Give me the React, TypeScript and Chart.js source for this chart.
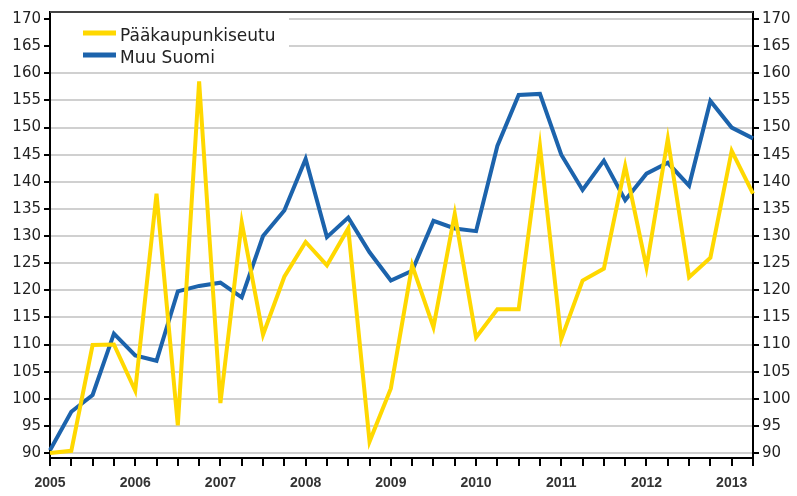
import React, { useEffect, useRef } from "react";
import { Chart, registerables } from "chart.js";

Chart.register(...registerables);

const years = ["2005", "2006", "2007", "2008", "2009", "2010", "2011", "2012", "2013"];
const quarters: string[] = [];
years.forEach((y) => ["Q1", "Q2", "Q3", "Q4"].forEach((q) => quarters.push(y + q)));
const categories = quarters.slice(0, 34);

const seriesNames = ["Pääkaupunkiseutu", "Muu Suomi"];

const paakaupunkiseutu = [
  90, 90.4, 109.9, 110, 101.5, 137.8, 95.1, 158.5, 99.2, 132.5,
  111.8, 122.5, 128.9, 124.6, 131.4, 92.1, 101.9, 124.6, 113.2, 134.1,
  111.3, 116.5, 116.5, 146.6, 111, 121.8, 124, 142.9, 124.2, 147.9,
  122.4, 126, 145.7, 137.8,
];

const muuSuomi = [
  90.5, 97.6, 100.7, 112, 108, 107, 119.8, 120.8, 121.4, 118.7,
  130, 134.7, 144.2, 129.8, 133.4, 127, 121.8, 123.6, 132.8, 131.4,
  130.9, 146.6, 156, 156.2, 145, 138.5, 143.9, 136.6, 141.5, 143.5,
  139.3, 154.9, 150, 148,
];

const yTicks = [90, 95, 100, 105, 110, 115, 120, 125, 130, 135, 140, 145, 150, 155, 160, 165, 170];
const yMin = 89.08;
const yMax = 171.3;

const YELLOW = "#FFD800";
const BLUE = "#1C63AC";
const FONT = "'DejaVu Sans', Verdana, sans-serif";
const XFONT = "'Liberation Sans', Arial, sans-serif";

const frameLegendPlugin = {
  id: "frameLegend",
  beforeDatasetsDraw(chart: any) {
    const { ctx, chartArea } = chart;
    ctx.save();
    ctx.fillStyle = "#ffffff";
    ctx.fillRect(chartArea.left + 1, chartArea.top + 1, 238, 55);
    ctx.restore();
  },
  afterDatasetsDraw(chart: any) {
    const { ctx, chartArea } = chart;
    ctx.save();
    ctx.strokeStyle = "#444444";
    ctx.lineWidth = 2;
    ctx.beginPath();
    ctx.moveTo(chartArea.left, chartArea.top);
    ctx.lineTo(chartArea.right, chartArea.top);
    ctx.stroke();
    const items = [
      { label: seriesNames[0], color: YELLOW, y: 33 },
      { label: seriesNames[1], color: BLUE, y: 55 },
    ];
    ctx.font = `17px ${FONT}`;
    ctx.textBaseline = "alphabetic";
    ctx.textAlign = "left";
    items.forEach((it) => {
      ctx.strokeStyle = it.color;
      ctx.lineWidth = 5;
      ctx.beginPath();
      ctx.moveTo(83, it.y);
      ctx.lineTo(116, it.y);
      ctx.stroke();
      ctx.fillStyle = "#222222";
      ctx.fillText(it.label, 120, it.y + 8);
    });
    ctx.restore();
  },
};

export default function App() {
  const canvasRef = useRef<HTMLCanvasElement | null>(null);

  useEffect(() => {
    if (!canvasRef.current) return;
    const setTicks = (scale: any) => {
      scale.ticks = yTicks.map((v) => ({ value: v }));
    };
    const chart = new Chart(canvasRef.current, {
      type: "line",
      data: {
        labels: categories,
        datasets: [
          {
            label: seriesNames[0],
            data: paakaupunkiseutu,
            borderColor: YELLOW,
            backgroundColor: YELLOW,
            borderWidth: 4,
            pointRadius: 0,
            tension: 0,
          },
          {
            label: seriesNames[1],
            data: muuSuomi,
            borderColor: BLUE,
            backgroundColor: BLUE,
            borderWidth: 4,
            pointRadius: 0,
            tension: 0,
          },
        ],
      },
      options: {
        responsive: false,
        animation: false,
        layout: { padding: { top: 11, left: 0, right: 0, bottom: 0 } },
        plugins: { legend: { display: false }, tooltip: { enabled: false } },
        scales: {
          x: {
            type: "category",
            offset: false,
            grid: {
              drawOnChartArea: false,
              drawTicks: true,
              tickLength: 8,
              tickColor: "#000",
              lineWidth: 2,
            },
            border: { color: "#000", width: 2 },
            ticks: {
              autoSkip: false,
              maxRotation: 0,
              minRotation: 0,
              padding: 9,
              color: "#333",
              font: { family: XFONT, size: 14, weight: "bold" },
              callback: (_v: any, i: number) => (i % 4 === 0 ? categories[i].slice(0, 4) : ""),
            },
            afterFit: (s: any) => {
              s.height = 38;
            },
          },
          y: {
            position: "left",
            min: yMin,
            max: yMax,
            afterBuildTicks: setTicks,
            grid: {
              color: "#d0d0d0",
              lineWidth: 2,
              tickColor: "#000",
              tickLength: 6,
            },
            border: { color: "#000", width: 2 },
            ticks: {
              color: "#222",
              padding: 3,
              font: { family: FONT, size: 15 },
            },
            afterFit: (s: any) => {
              s.width = 50;
            },
          },
          y2: {
            position: "right",
            min: yMin,
            max: yMax,
            afterBuildTicks: setTicks,
            grid: {
              drawOnChartArea: false,
              tickColor: "#000",
              tickLength: 6,
              lineWidth: 2,
            },
            border: { color: "#000", width: 2 },
            ticks: {
              color: "#222",
              padding: 3,
              font: { family: FONT, size: 15 },
            },
            afterFit: (s: any) => {
              s.width = 44;
            },
          },
        },
      } as any,
      plugins: [frameLegendPlugin],
    });
    return () => chart.destroy();
  }, []);

  return (
    <div style={{ position: "absolute", left: 0, top: 0, width: 797, height: 496, background: "#fff" }}>
      <canvas ref={canvasRef} width={797} height={496} style={{ display: "block" }} />
    </div>
  );
}
